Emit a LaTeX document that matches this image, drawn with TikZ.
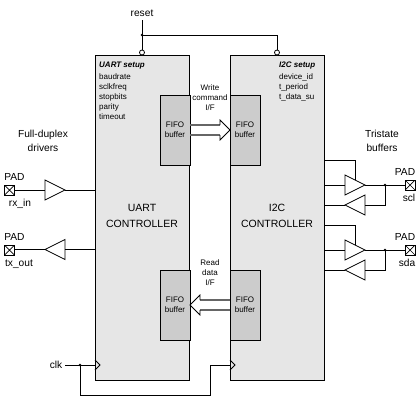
\documentclass[tikz,border=0pt]{standalone}
\usepackage{fontspec}
\setmainfont{Liberation Sans}
\usetikzlibrary{shapes.geometric,calc}
\definecolor{boxfill}{HTML}{E6E6E6}
\definecolor{fifofill}{HTML}{CCCCCC}
\definecolor{shaft}{HTML}{666666}
\tikzset{
  line width=1.2pt,
  ctrl/.style={draw=black,fill=boxfill,rectangle,inner sep=0,outer sep=0,minimum width=#1,minimum height=325pt},
  fifo/.style={draw=black,fill=fifofill,rectangle,inner sep=0,outer sep=0,minimum width=30pt,minimum height=70pt,align=center,font=\fontsize{8}{10}\selectfont},
  buf/.style={draw=black,line width=0.8pt,fill=white,isosceles triangle,isosceles triangle stretches,inner sep=0,outer sep=0,minimum width=20pt,minimum height=20pt,shape border rotate=#1},
  pad/.style={draw=black,line width=0.8pt,fill=white,rectangle,inner sep=0,outer sep=0,minimum size=10pt,path picture={\draw[line width=0.7pt] (path picture bounding box.north west)--(path picture bounding box.south east) (path picture bounding box.north east)--(path picture bounding box.south west);}},
  dot/.style={circle,fill=black,inner sep=0,outer sep=0,minimum size=2.6pt},
  bubble/.style={circle,draw=black,line width=0.8pt,fill=white,inner sep=0,outer sep=0,minimum size=5pt},
  big/.style={font=\fontsize{10.5}{16}\selectfont,align=center,inner sep=0},
  lab/.style={font=\fontsize{10.2}{14}\selectfont,align=center,inner sep=0},
  small/.style={font=\fontsize{8}{10}\selectfont,align=center,inner sep=0},
  smalll/.style={font=\fontsize{8}{10}\selectfont,align=left,inner sep=0,anchor=north west},
  head/.style={font=\fontsize{8}{10}\selectfont\bfseries\itshape,inner sep=0,anchor=west},
  thinw/.style={line width=0.8pt},
  shaftw/.style={draw=shaft,line width=1.5pt},
}
\begin{document}
\begin{tikzpicture}[x=1pt,y=-1pt]
\useasboundingbox (0,0) rectangle (420,400);
% controllers
\node[ctrl=94.5pt] (uart) at (142.25,217.5) {};
\node[ctrl=94.5pt] (i2c) at (277.25,217.5) {};
\node[big] (uartname) at (142,216) {UART\\CONTROLLER};
\node[big] (i2cname) at (277,216) {I2C\\CONTROLLER};
\node[head] (uarthead) at (99,66) {UART setup};
\node[head] (i2chead) at (279,66) {I2C setup};
\node[smalll] (uartlist) at (99,73.5) {baudrate\\sclkfreq\\stopbits\\parity\\timeout};
\node[smalll] (i2clist) at (279,73.5) {device\_id\\t\_period\\t\_data\_su};
% FIFOs
\node[fifo] (fu1) at (175,130) {FIFO\\buffer};
\node[fifo] (fi1) at (245,130) {FIFO\\buffer};
\node[fifo] (fu2) at (175,305) {FIFO\\buffer};
\node[fifo] (fi2) at (245,305) {FIFO\\buffer};
\node[small] (wlab) at (210,98) {Write\\command\\I/F};
\node[small] (rlab) at (210,273) {Read\\data\\I/F};
% hollow arrows
\draw[shaftw] ([yshift=5pt]fu1.east) -- ([shift={(-10pt,5pt)}]fi1.west);
\draw[shaftw] ([yshift=-5pt]fu1.east) -- ([shift={(-10pt,-5pt)}]fi1.west);
\draw[thinw] ([shift={(-10pt,5pt)}]fi1.west) -- ([shift={(-10pt,10pt)}]fi1.west) -- (fi1.west) -- ([shift={(-10pt,-10pt)}]fi1.west) -- ([shift={(-10pt,-5pt)}]fi1.west);
\draw[shaftw] ([yshift=5pt]fi2.west) -- ([shift={(10pt,5pt)}]fu2.east);
\draw[shaftw] ([yshift=-5pt]fi2.west) -- ([shift={(10pt,-5pt)}]fu2.east);
\draw[thinw] ([shift={(10pt,5pt)}]fu2.east) -- ([shift={(10pt,10pt)}]fu2.east) -- (fu2.east) -- ([shift={(10pt,-10pt)}]fu2.east) -- ([shift={(10pt,-5pt)}]fu2.east);
% reset
\node[lab] (reset) at (142,13) {reset};
\node[bubble] (ru) at (142,52.5) {};
\node[bubble] (ri) at (277,52.5) {};
\node[dot] (rd) at (142,35) {};
\draw (reset.south |- 142,20) -- (ru.north);
\draw (rd.center) -| (ri.north);
% left drivers
\node[lab] (fd) at (43,141) {Full-duplex\\drivers};
\node[pad] (p1) at (9.5,190) {};
\node[pad] (p2) at (9.5,250) {};
\node[lab] (p1t) at (14.5,177) {PAD};
\node[lab] (p2t) at (14.5,237) {PAD};
\node[lab] (rx) at (20,204) {rx\_in};
\node[lab] (tx) at (19,264) {tx\_out};
\node[buf=0,anchor=lower side] (b1) at (45,190) {};
\node[buf=180,anchor=lower side] (b2) at (65,249.5) {};
\draw (p1.east) -- (b1.lower side);
\draw (b1.apex) -- (uart.west |- b1.apex);
\draw (p2.east |- b2.apex) -- (b2.apex);
\draw[thinw] (b2.lower side) -- (uart.west |- b2.lower side);
% clk
\node[lab] (clk) at (56,365) {clk};
\node[dot] (cd) at (80,365) {};
\coordinate (cu) at (uart.west |- clk);
\coordinate (ci) at (i2c.west |- clk);
\draw (65,365) -- (cu);
\draw (cd.center) -- (80,395) -| (210,365) -- (ci);
\draw[thinw] ([yshift=5pt]cu) -- ([xshift=5pt]cu) -- ([yshift=-5pt]cu);
\draw[thinw] ([yshift=5pt]ci) -- ([xshift=5pt]ci) -- ([yshift=-5pt]ci);
% right tristate
\node[lab] (tri) at (382,141) {Tristate\\buffers};
\foreach \n/\y/\en/\txt/\tx/\ty in {a/185/160/scl/409/198,c/250/225/sda/407/263}{
  \node[pad] (q\n) at (410,\y) {};
  \node[dot] (d\n) at (385,\y) {};
  \node[lab] (q\n t) at (405,\y-13) {PAD};
  \node[lab] (s\n) at (\tx,\ty) {\txt};
  \coordinate (e\n) at (355,\y-5);
  \draw (i2c.east |- 325,\en) -| (e\n);
  \node[buf=0,anchor=lower side] (t\n) at (345,\y) {};
  \node[buf=180,anchor=lower side] (u\n) at (365,\y+20) {};
  \draw (i2c.east |- t\n.lower side) -- (t\n.lower side);
  \draw (t\n.apex) -- (q\n.west);
  \draw (d\n.center) |- (u\n.lower side);
  \draw (u\n.apex) -- (i2c.east |- u\n.apex);
}
\end{tikzpicture}
\end{document}
